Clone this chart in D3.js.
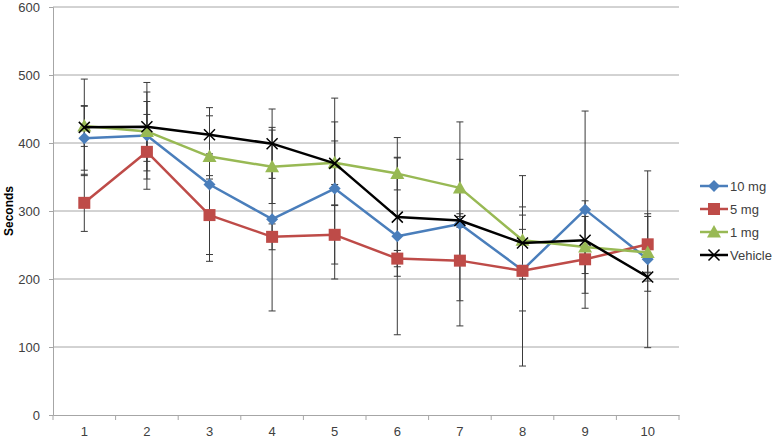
<!DOCTYPE html>
<html>
<head>
<meta charset="utf-8">
<script src="https://cdn.jsdelivr.net/npm/d3@7"></script>
<style>
  body { margin: 0; background: #fff; }
  text { font-family: "Liberation Sans", Arial, sans-serif; fill: #404040; }
</style>
</head>
<body>
<div id="chart"></div>
<script>
// Data
let sessions = [1, 2, 3, 4, 5, 6, 7, 8, 9, 10];
let yTicks = [0, 100, 200, 300, 400, 500, 600];

let mg10 = [407, 411, 339, 288, 333, 263, 281, 213, 302, 229];
let mg10Err = [47, 64, 113, 135, 133, 145, 150, 60, 145, 130];

let mg5 = [312, 387, 294, 262, 265, 230, 227, 212, 229, 251];
let mg5Err = [42, 55, 58, 19, 43, 12, 59, 140, 21, 41];

let mg1 = [425, 417, 380, 365, 371, 355, 334, 257, 247, 239];
let mg1Err = [30, 44, 33, 54, 32, 24, 42, 37, 68, 57];

let vehicle = [423, 424, 412, 399, 370, 291, 286, 253, 257, 203];
let vehicleErr = [71, 65, 28, 51, 61, 87, 10, 53, 35, 6];

let seriesNames = ["10 mg", "5 mg", "1 mg", "Vehicle"];

// chart set up
let svgWidth = 777;
let svgHeight = 440;
let margin = { top: 7, right: 98, bottom: 25, left: 53 };
let width = svgWidth - margin.left - margin.right;
let height = svgHeight - margin.top - margin.bottom;

let svg = d3.select("#chart").append("svg")
  .attr("width", svgWidth)
  .attr("height", svgHeight);

let chartGroup = svg.append("g")
  .attr("transform", `translate(${margin.left}, ${margin.top})`);

let xScale = d3.scaleBand().domain(sessions).range([0, width]);
let yScale = d3.scaleLinear().domain([0, 600]).range([height, 0]);
let xc = d => xScale(d) + xScale.bandwidth() / 2;

// gridlines
chartGroup.selectAll(".grid")
  .data(yTicks.filter(t => t > 0))
  .enter().append("line")
  .attr("x1", 0).attr("x2", width)
  .attr("y1", d => yScale(d)).attr("y2", d => yScale(d))
  .attr("stroke", "#a6a6a6").attr("stroke-width", 1);

// y axis
let yAxis = chartGroup.append("g")
  .call(d3.axisLeft(yScale).tickValues(yTicks).tickSize(4).tickPadding(9));
yAxis.select(".domain").attr("stroke", "#a6a6a6");
yAxis.selectAll(".tick line").attr("stroke", "#a6a6a6");
yAxis.selectAll("text").attr("font-size", 13).attr("fill", "#404040");

// x axis with ticks at band edges
let xAxis = chartGroup.append("g")
  .attr("transform", `translate(0, ${height})`)
  .call(d3.axisBottom(xScale).tickSize(0).tickPadding(12));
xAxis.select(".domain").attr("stroke", "#a6a6a6");
xAxis.selectAll("text").attr("font-size", 13).attr("fill", "#404040");
chartGroup.selectAll(".xedge")
  .data(d3.range(sessions.length + 1))
  .enter().append("line")
  .attr("x1", i => i * xScale.step()).attr("x2", i => i * xScale.step())
  .attr("y1", height).attr("y2", height + 5)
  .attr("stroke", "#a6a6a6");

// axis title
svg.append("text")
  .attr("transform", `translate(13, ${margin.top + yScale(300)}) rotate(-90)`)
  .attr("text-anchor", "middle")
  .attr("font-size", 12)
  .attr("font-weight", "bold")
  .style("fill", "#000")
  .text("Seconds");

let series = [
  { name: seriesNames[0], values: mg10, err: mg10Err, color: "#4a7ebb", marker: "diamond" },
  { name: seriesNames[1], values: mg5, err: mg5Err, color: "#be4b48", marker: "square" },
  { name: seriesNames[2], values: mg1, err: mg1Err, color: "#98b954", marker: "triangle" },
  { name: seriesNames[3], values: vehicle, err: vehicleErr, color: "#000000", marker: "x" }
];

// draw a marker at (x, y)
function drawMarker(g, type, color, x, y) {
  if (type === "diamond") {
    g.append("path")
      .attr("d", `M${x},${y - 6}L${x + 6},${y}L${x},${y + 6}L${x - 6},${y}Z`)
      .attr("fill", color);
  } else if (type === "square") {
    g.append("rect")
      .attr("x", x - 6).attr("y", y - 6)
      .attr("width", 12).attr("height", 12)
      .attr("fill", color);
  } else if (type === "triangle") {
    g.append("path")
      .attr("d", `M${x},${y - 7}L${x + 7},${y + 5.5}L${x - 7},${y + 5.5}Z`)
      .attr("fill", color);
  } else {
    g.append("path")
      .attr("d", `M${x - 5.5},${y - 5.5}L${x + 5.5},${y + 5.5}M${x - 5.5},${y + 5.5}L${x + 5.5},${y - 5.5}`)
      .attr("stroke", color).attr("stroke-width", 1.5).attr("fill", "none");
  }
}

// error bars first so lines sit on top
series.forEach(s => {
  let eg = chartGroup.append("g");
  s.values.forEach((v, i) => {
    let x = xc(sessions[i]);
    let hi = yScale(v + s.err[i]);
    let lo = yScale(v - s.err[i]);
    eg.append("line").attr("x1", x).attr("x2", x).attr("y1", hi).attr("y2", lo)
      .attr("stroke", "#3a3a3a").attr("stroke-width", 1);
    [hi, lo].forEach(yy => {
      eg.append("line").attr("x1", x - 3.5).attr("x2", x + 3.5).attr("y1", yy).attr("y2", yy)
        .attr("stroke", "#3a3a3a").attr("stroke-width", 1);
    });
  });
});

let line = d3.line()
  .x((d, i) => xc(sessions[i]))
  .y(d => yScale(d));

series.forEach(s => {
  let sg = chartGroup.append("g");
  sg.append("path")
    .datum(s.values)
    .attr("d", line)
    .attr("fill", "none")
    .attr("stroke", s.color)
    .attr("stroke-width", 2.5)
    .attr("stroke-linejoin", "round");
  s.values.forEach((v, i) => drawMarker(sg, s.marker, s.color, xc(sessions[i]), yScale(v)));
});

// legend
let legend = svg.append("g").attr("transform", "translate(700, 186)");
series.forEach((s, i) => {
  let lg = legend.append("g").attr("transform", `translate(0, ${i * 23})`);
  lg.append("line").attr("x1", 0).attr("x2", 28).attr("y1", 0).attr("y2", 0)
    .attr("stroke", s.color).attr("stroke-width", 2.5);
  drawMarker(lg, s.marker, s.color, 14, 0);
  lg.append("text").attr("x", 30).attr("y", 0).attr("dy", "0.35em")
    .attr("font-size", 13).text(s.name);
});
</script>
</body>
</html>
